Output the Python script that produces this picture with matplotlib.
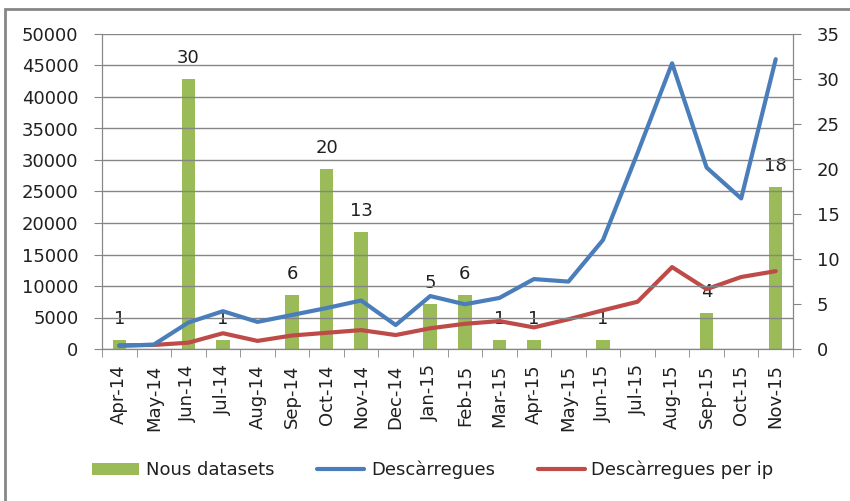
import numpy as np
import matplotlib.pyplot as plt
from matplotlib.patches import Rectangle

months = ['Apr-14', 'May-14', 'Jun-14', 'Jul-14', 'Aug-14', 'Sep-14', 'Oct-14',
          'Nov-14', 'Dec-14', 'Jan-15', 'Feb-15', 'Mar-15', 'Apr-15', 'May-15',
          'Jun-15', 'Jul-15', 'Aug-15', 'Sep-15', 'Oct-15', 'Nov-15']
nous_datasets = [1, 0, 30, 1, 0, 6, 20, 13, 0, 5, 6, 1, 1, 0, 1, 0, 0, 4, 0, 18]
descarregues = [500, 700, 4200, 6000, 4300, 5400, 6500, 7700, 3800, 8400, 7100,
                8100, 11100, 10700, 17300, 31100, 45350, 28800, 23900, 46000]
descarregues_ip = [0.4, 0.45, 0.7, 1.75, 0.9, 1.5, 1.8, 2.1, 1.55, 2.3, 2.8,
                   3.1, 2.4, 3.3, 4.3, 5.25, 9.1, 6.65, 8.0, 8.65]

plt.rcParams['font.family'] = ['DejaVu Sans']
GREEN, BLUE, RED = '#9BBB59', '#4A7EBB', '#BE4B48'
GRAY = '#868686'
FS = 13

fig = plt.figure(figsize=(8.5, 5.01), dpi=100)
ax = fig.add_axes([102 / 850, 1 - 349 / 501, 691 / 850, 315 / 501])
ax2 = ax.twinx()

x = np.arange(len(months))
bars = ax2.bar(x, nous_datasets, width=0.39, color=GREEN, zorder=2,
               label='Nous datasets')
for xi, v in zip(x, nous_datasets):
    if v > 0:
        ax2.text(xi, v + 1.3, str(v), ha='center', va='bottom', fontsize=FS,
                 color='#202020')

ax2.plot(x, descarregues_ip, color=RED, lw=3, zorder=3,
         label='Descàrregues per ip', solid_capstyle='round')
ax.plot(x, descarregues, color=BLUE, lw=3, zorder=3, label='Descàrregues',
        solid_capstyle='round')

ax.set_xlim(-0.5, len(months) - 0.5)
ax.set_ylim(0, 50000)
ax2.set_ylim(0, 35)
ax.set_yticks(range(0, 50001, 5000))
ax2.set_yticks(range(0, 36, 5))
ax.yaxis.grid(True, color=GRAY, lw=1)
ax.set_axisbelow(True)
ax.set_zorder(ax2.get_zorder() + 1)
ax.patch.set_visible(False)

ax.set_xticks(x)
ax.set_xticklabels(months, rotation=90, fontsize=FS, color='#202020')
ax.set_xticks(np.arange(-0.5, len(months)), minor=True)
ax.tick_params(axis='x', which='major', length=0, pad=11)
ax.tick_params(axis='x', which='minor', length=6, color=GRAY, direction='out')
ax.tick_params(axis='y', labelsize=FS, length=6, color=GRAY, pad=11,
               labelcolor='#202020')
ax2.tick_params(axis='y', labelsize=FS, length=6, color=GRAY, pad=11,
                labelcolor='#202020')

for a in (ax, ax2):
    a.spines['top'].set_visible(False)
    for s in ('left', 'right', 'bottom'):
        a.spines[s].set_color(GRAY)

handles = [bars, ax.lines[0], ax2.lines[0]]
fig.legend(handles, [h.get_label() for h in handles], loc='center',
           bbox_to_anchor=(0.5 + 8 / 850, 1 - 470 / 501), ncol=3, frameon=False,
           fontsize=FS, handlelength=2.6, columnspacing=2.4,
           handletextpad=0.35, labelcolor='#202020')

fig.patches.append(Rectangle((5 / 850, -0.1), 1.2, 1 - 9 / 501 + 0.1,
                             transform=fig.transFigure, fill=False,
                             edgecolor=GRAY, lw=2))

fig.savefig('out.png', dpi=100)
